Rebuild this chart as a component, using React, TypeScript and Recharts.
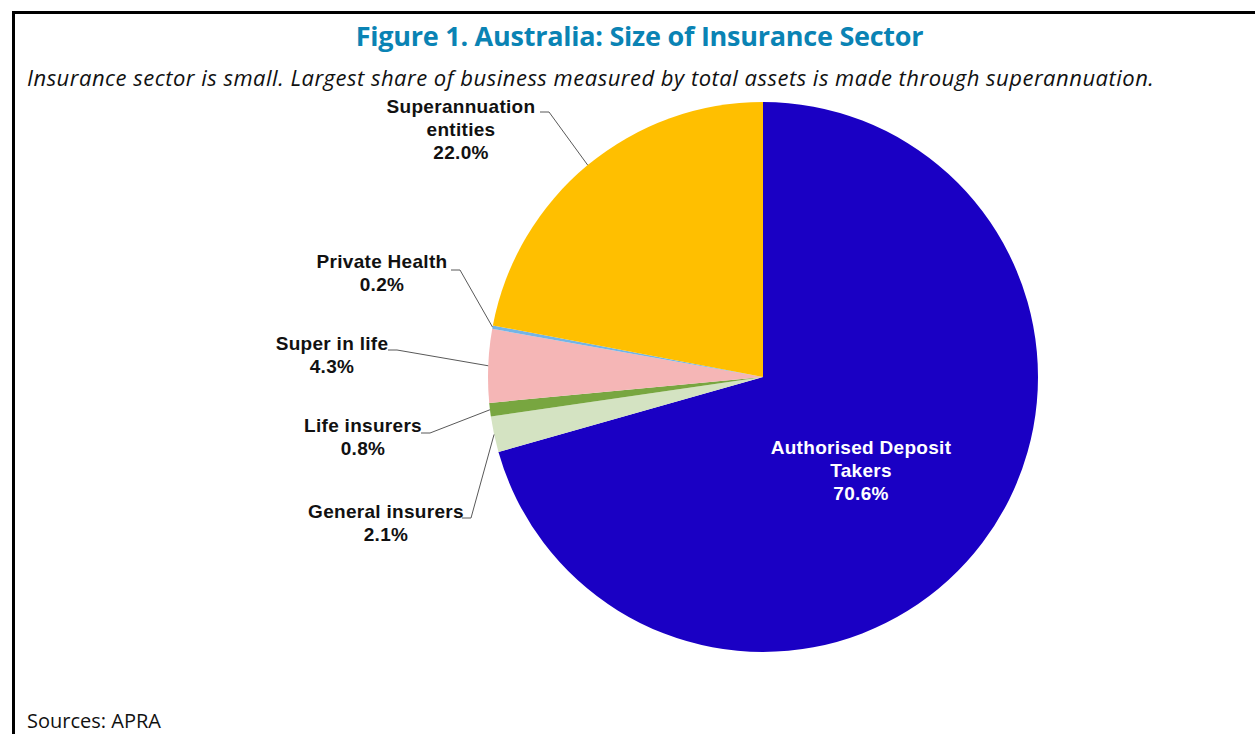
import React from 'react';
import { PieChart, Pie, Cell } from 'recharts';

const categories = [
  'Authorised Deposit Takers',
  'General insurers',
  'Life insurers',
  'Super in life',
  'Private Health',
  'Superannuation entities',
];
const shares = [70.6, 2.1, 0.8, 4.3, 0.2, 22.0];
const labelNames: string[][] = [
  ['Authorised Deposit', 'Takers'],
  ['General insurers'],
  ['Life insurers'],
  ['Super in life'],
  ['Private Health'],
  ['Superannuation', 'entities'],
];
const colors = ['#1A00C4', '#D4E3C2', '#78A640', '#F5B6B6', '#74B4E6', '#FFBF00'];

// label layout: text centre and first baseline relative to pie centre; elbow of leader
const labelLayout = [
  { tx: 98, ty: 77, inside: true, ex: 0, ey: 0 },
  { tx: -377, ty: 141, inside: false, ex: -292, ey: 141 },
  { tx: -400, ty: 55, inside: false, ex: -333, ey: 56 },
  { tx: -431, ty: -27, inside: false, ex: -366, ey: -27 },
  { tx: -381, ty: -109, inside: false, ex: -303, ey: -107 },
  { tx: -302, ty: -264, inside: false, ex: -214, ey: -265 },
];

const data = categories.map((name, i) => ({ name, value: shares[i] }));

const RADIAN = Math.PI / 180;

const renderLabel = (props: any) => {
  const { cx, cy, midAngle, outerRadius, index, value } = props;
  const lay = labelLayout[index];
  const lines = [...labelNames[index], `${Number(value).toFixed(1)}%`];
  const x = cx + lay.tx;
  const y0 = cy + lay.ty;
  const els: any[] = [];
  if (!lay.inside) {
    const px = cx + Math.cos(-midAngle * RADIAN) * outerRadius;
    const py = cy + Math.sin(-midAngle * RADIAN) * outerRadius;
    const exx = cx + lay.ex;
    const eyy = cy + lay.ey;
    els.push(
      <polyline
        key="l"
        points={`${px},${py} ${exx},${eyy} ${exx - 9},${eyy}`}
        fill="none"
        stroke="#595959"
        strokeWidth={1}
      />
    );
  }
  els.push(
    <text
      key="t"
      x={x}
      y={y0}
      textAnchor="middle"
      fill={lay.inside ? '#FFFFFF' : '#111111'}
      style={{ fontFamily: 'Liberation Sans, Arial, sans-serif', fontWeight: 700, fontSize: 19, letterSpacing: 0.3 }}
    >
      {lines.map((ln, k) => (
        <tspan key={k} x={x} dy={k === 0 ? 0 : 23}>
          {ln}
        </tspan>
      ))}
    </text>
  );
  return <g>{els}</g>;
};

export default function App() {
  return (
    <div style={{ position: 'relative', width: 1255, height: 734, overflow: 'hidden', background: '#fff' }}>
      <style>{`body{margin:0}`}</style>
      <div
        style={{
          position: 'absolute',
          left: 12,
          top: 11,
          width: 1300,
          height: 800,
          borderLeft: '3px solid #000',
          borderTop: '3px solid #000',
        }}
      />
      <div
        style={{
          position: 'absolute',
          left: 0,
          width: 1279,
          top: 15,
          textAlign: 'center',
          fontFamily: 'Open Sans, sans-serif',
          fontWeight: 700,
          fontSize: 27,
          color: '#0A83B4',
          lineHeight: '42px',
          letterSpacing: -0.25,
        }}
      >
        Figure 1. Australia: Size of Insurance Sector
      </div>
      <div
        style={{
          position: 'absolute',
          left: 27,
          top: 62,
          fontFamily: 'Open Sans, sans-serif',
          fontStyle: 'italic',
          fontSize: 22,
          letterSpacing: 0.5,
          color: '#111',
          lineHeight: '30px',
          whiteSpace: 'nowrap',
        }}
      >
        Insurance sector is small. Largest share of business measured by total assets is made through superannuation.
      </div>
      <div
        style={{
          position: 'absolute',
          left: 27,
          top: 707,
          fontFamily: 'Open Sans, sans-serif',
          fontSize: 20,
          color: '#111',
          lineHeight: '28px',
          whiteSpace: 'nowrap',
        }}
      >
        Sources: APRA
      </div>
      <div style={{ position: 'absolute', left: 0, top: 0 }}>
        <PieChart width={1255} height={734} margin={{ top: 0, right: 0, bottom: 0, left: 0 }}>
          <Pie
            data={data}
            dataKey="value"
            nameKey="name"
            cx={763}
            cy={377}
            outerRadius={275}
            startAngle={90}
            endAngle={-270}
            stroke="none"
            label={renderLabel}
            labelLine={false}
            isAnimationActive={false}
          >
            {data.map((d, i) => (
              <Cell key={d.name} fill={colors[i]} stroke="none" />
            ))}
          </Pie>
        </PieChart>
      </div>
    </div>
  );
}
